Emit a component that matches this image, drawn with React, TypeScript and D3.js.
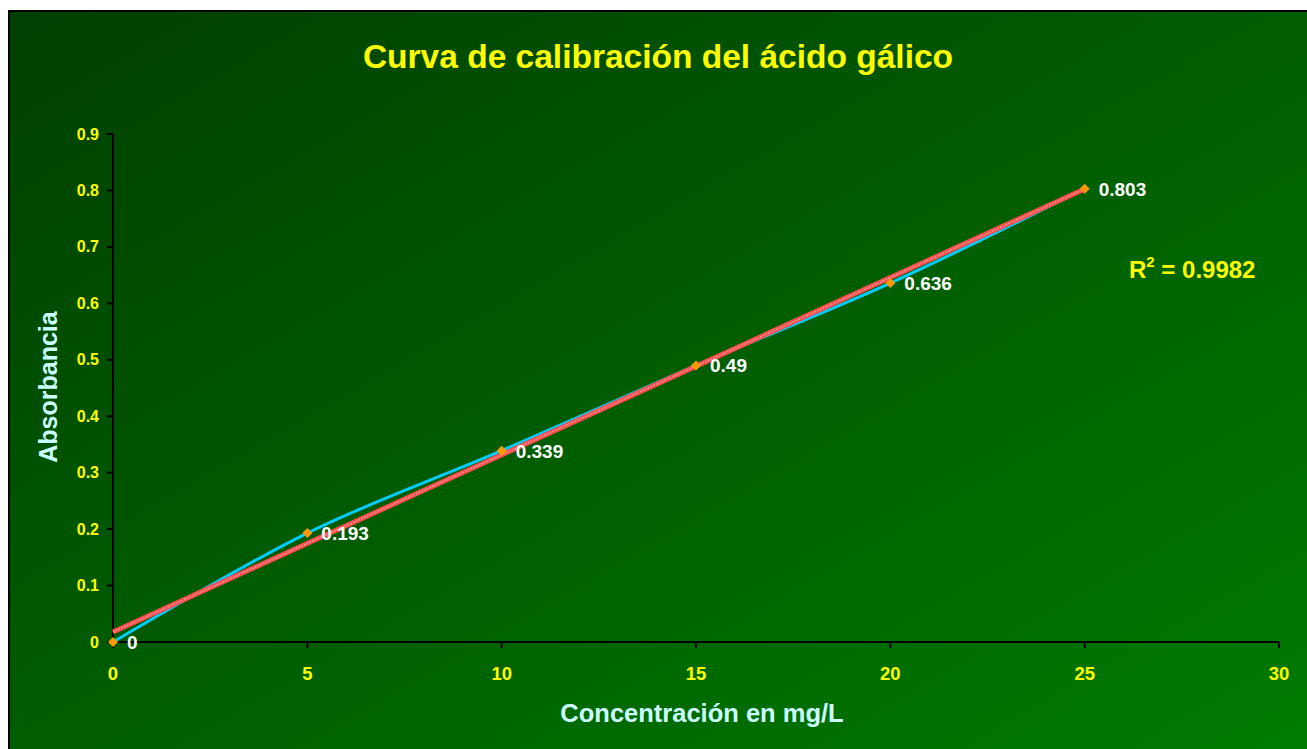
import React from "react";
import * as d3 from "d3";

const concentrations = [0, 5, 10, 15, 20, 25];
const absorbances = [0, 0.193, 0.339, 0.49, 0.636, 0.803];
const xTicks = [0, 5, 10, 15, 20, 25, 30];
const yTicks = [0, 0.1, 0.2, 0.3, 0.4, 0.5, 0.6, 0.7, 0.8, 0.9];
const rSquaredText = "0.9982";

const FONT = "'Liberation Sans', Arial, sans-serif";

export default function App() {
  const W = 1307;
  const H = 749;
  const x = d3.scaleLinear().domain([0, 30]).range([113, 1279]);
  const y = d3.scaleLinear().domain([0, 0.9]).range([642, 134]);

  const pts: [number, number][] = concentrations.map((c, i) => [c, absorbances[i]]);

  // linear regression for the trendline
  const n = pts.length;
  const mx = d3.mean(concentrations)!;
  const my = d3.mean(absorbances)!;
  let sxy = 0, sxx = 0;
  pts.forEach(([a, b]) => { sxy += (a - mx) * (b - my); sxx += (a - mx) * (a - mx); });
  const slope = sxy / sxx;
  const intercept = my - slope * mx;
  const x0 = d3.min(concentrations)!;
  const x1 = d3.max(concentrations)!;

  const smooth = d3
    .line<[number, number]>()
    .x((d) => x(d[0]))
    .y((d) => y(d[1]))
    .curve(d3.curveCardinal.tension(0));

  const trendPath = `M${x(x0)},${y(intercept + slope * x0)}L${x(x1)},${y(intercept + slope * x1)}`;

  return (
    <svg width={W} height={H} style={{ position: "absolute", left: 0, top: 0, display: "block" }}>
      <defs>
        <linearGradient id="bg" x1="0" y1="0" x2="1" y2="1">
          <stop offset="0" stopColor="#003f00" />
          <stop offset="1" stopColor="#007c00" />
        </linearGradient>
      </defs>
      <rect x={0} y={0} width={W} height={H} fill="#ffffff" />
      <rect x={9} y={11} width={W + 10} height={H + 10} fill="url(#bg)" stroke="#000" strokeWidth={2} />

      <text x={658} y={68} textAnchor="middle" fill="#ffff00" fontFamily={FONT} fontWeight="bold" fontSize={33.5}>
        Curva de calibración del ácido gálico
      </text>

      {/* axes */}
      <line x1={x(0)} x2={x(0)} y1={y(0.9)} y2={y(0)} stroke="#000" strokeWidth={2} />
      <line x1={x(0)} x2={x(30)} y1={y(0)} y2={y(0)} stroke="#000" strokeWidth={2} />
      {yTicks.map((t) => (
        <g key={"y" + t}>
          <line x1={x(0) - 6} x2={x(0)} y1={y(t)} y2={y(t)} stroke="#000" strokeWidth={2} />
          <text x={99} y={y(t) + 5.5} textAnchor="end" fill="#ffff00" fontFamily={FONT} fontWeight="bold" fontSize={16}>
            {t === 0 ? "0" : t.toFixed(1)}
          </text>
        </g>
      ))}
      {xTicks.map((t) => (
        <g key={"x" + t}>
          <line x1={x(t)} x2={x(t)} y1={y(0)} y2={y(0) + 6} stroke="#000" strokeWidth={2} />
          <text x={x(t)} y={680} textAnchor="middle" fill="#ffff00" fontFamily={FONT} fontWeight="bold" fontSize={18.5}>
            {t}
          </text>
        </g>
      ))}

      {/* axis titles */}
      <text x={702} y={722} textAnchor="middle" fill="#ccffff" fontFamily={FONT} fontWeight="bold" fontSize={25.5}>
        Concentración en mg/L
      </text>
      <text
        transform={`translate(57,387) rotate(-90)`}
        textAnchor="middle"
        fill="#ccffff"
        fontFamily={FONT}
        fontWeight="bold"
        fontSize={25}
      >
        Absorbancia
      </text>

      {/* series line */}
      <path d={smooth(pts)!} fill="none" stroke="#00ccff" strokeWidth={3} />

      {/* trendline */}
      <path d={trendPath} fill="none" stroke="#ff4a4a" strokeWidth={5} />
      <path d={trendPath} fill="none" stroke="#ffffff" strokeOpacity={0.55} strokeWidth={1.5} strokeDasharray="1.5 1.5" />

      {/* markers */}
      {pts.map(([a, b], i) => (
        <path
          key={"m" + i}
          transform={`translate(${x(a)},${y(b)})`}
          d="M0,-5L5,0L0,5L-5,0Z"
          fill="#ff9900"
        />
      ))}

      {/* data labels */}
      {pts.map(([a, b], i) => (
        <text
          key={"l" + i}
          x={x(a) + 14}
          y={y(b) + 7}
          fill="#ffffff"
          fontFamily={FONT}
          fontWeight="bold"
          fontSize={19}
        >
          {String(b)}
        </text>
      ))}

      {/* R squared */}
      <text x={1129} y={278} fill="#ffff00" fontFamily={FONT} fontWeight="bold" fontSize={24}>
        R<tspan fontSize={15} dy={-11}>2</tspan>
        <tspan dy={11}> = {rSquaredText}</tspan>
      </text>
    </svg>
  );
}
